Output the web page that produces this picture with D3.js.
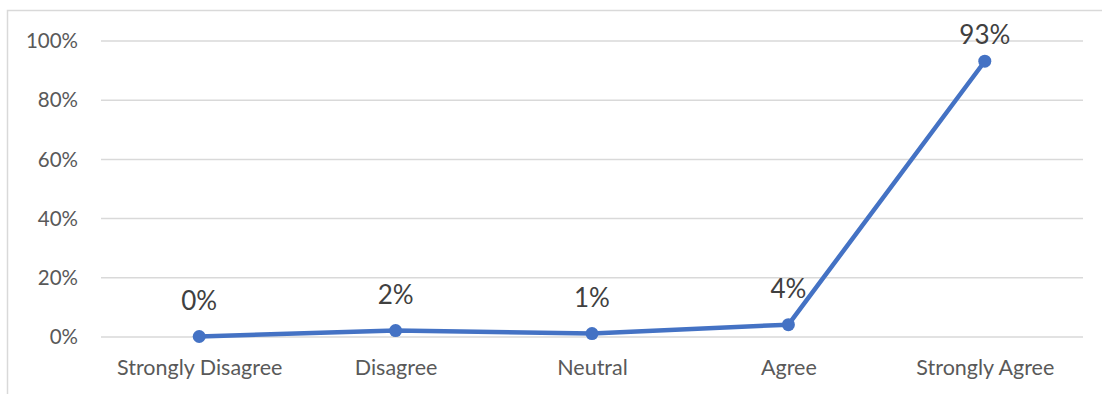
<!DOCTYPE html>
<html>
<head>
<meta charset="utf-8">
<script src="https://cdn.jsdelivr.net/npm/d3@7"></script>
<style>
  html, body { margin: 0; padding: 0; background: #fff; }
  svg { display: block; }
</style>
</head>
<body>
<svg id="chart" width="1102" height="394"></svg>
<script>
const categories = ["Strongly Disagree", "Disagree", "Neutral", "Agree", "Strongly Agree"];
const values = [0.00, 0.02, 0.01, 0.04, 0.93];
const dataLabels = ["0%", "2%", "1%", "4%", "93%"];
const yTicks = [0, 0.2, 0.4, 0.6, 0.8, 1.0];

const W = 1102, H = 394;
const svg = d3.select("#chart");
const FONT = "Lato, 'Open Sans', sans-serif";

// chart border (only top and left visible)
svg.append("rect")
  .attr("x", 7.5).attr("y", 10.5)
  .attr("width", 1300).attr("height", 600)
  .attr("fill", "none").attr("stroke", "#d9d9d9").attr("stroke-width", 1.5);

const x = d3.scalePoint().domain(categories).range([101, 1083]).padding(0.5);
const y = d3.scaleLinear().domain([0, 1]).range([336.5, 40.5]);

// gridlines
const grid = d3.axisLeft(y).tickValues(yTicks).tickSize(-(1083 - 101)).tickFormat("");
svg.append("g")
  .attr("transform", "translate(101,0)")
  .call(grid)
  .call(g => g.select(".domain").remove())
  .call(g => g.selectAll("line").attr("stroke", "#d9d9d9").attr("stroke-width", 1.5));

// y tick labels
const yAxis = d3.axisLeft(y).tickValues(yTicks).tickSize(0).tickPadding(0)
  .tickFormat(d3.format(".0%"));
svg.append("g")
  .attr("transform", "translate(78,0)")
  .call(yAxis)
  .call(g => g.select(".domain").remove())
  .call(g => g.selectAll("text")
    .attr("fill", "#595959")
    .style("font-family", FONT)
    .style("font-size", "20.5px")
    .attr("dy", "0.35em"));

// x category labels
const xAxis = d3.axisBottom(x).tickSize(0).tickPadding(0);
svg.append("g")
  .attr("transform", "translate(0,375)")
  .call(xAxis)
  .call(g => g.select(".domain").remove())
  .call(g => g.selectAll("text")
    .attr("fill", "#595959")
    .attr("dy", 0)
    .attr("y", 0)
    .style("font-family", FONT)
    .style("font-size", "21.5px"));

// line
const line = d3.line()
  .x((d, i) => x(categories[i]))
  .y(d => y(d));
svg.append("path")
  .datum(values)
  .attr("d", line)
  .attr("fill", "none")
  .attr("stroke", "#4472C4")
  .attr("stroke-width", 4.5)
  .attr("stroke-linejoin", "round")
  .attr("stroke-linecap", "round");

// markers
svg.append("g").selectAll("circle")
  .data(values)
  .join("circle")
  .attr("cx", (d, i) => x(categories[i]))
  .attr("cy", d => y(d))
  .attr("r", 6.5)
  .attr("fill", "#4472C4");

// data labels
svg.append("g").selectAll("text")
  .data(values)
  .join("text")
  .attr("x", (d, i) => x(categories[i]))
  .attr("y", d => Math.max(y(d) - 26.5, 43.5))
  .attr("text-anchor", "middle")
  .attr("fill", "#404040")
  .style("font-family", FONT)
  .style("font-size", "26px")
  .text((d, i) => dataLabels[i]);
</script>
</body>
</html>
